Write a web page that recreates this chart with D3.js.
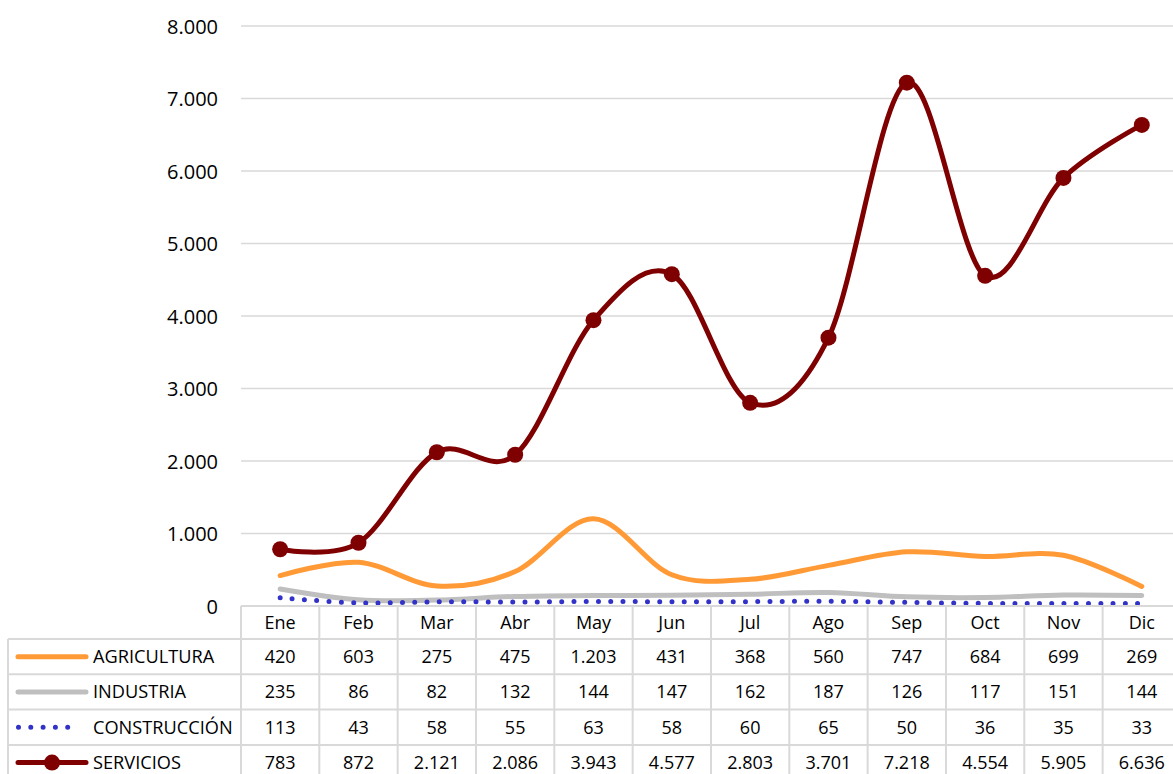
<!DOCTYPE html>
<html>
<head>
<meta charset="utf-8">
<script src="https://cdn.jsdelivr.net/npm/d3@7"></script>
<style>
  html, body { margin: 0; padding: 0; background: #fff; }
  svg { display: block; font-family: "Open Sans", "Noto Sans", sans-serif; }
</style>
</head>
<body>
<svg id="chart" width="1173" height="774"></svg>
<script>
// Monthly figures by sector
const months = ["Ene", "Feb", "Mar", "Abr", "May", "Jun", "Jul", "Ago", "Sep", "Oct", "Nov", "Dic"];
const agricultura = [420, 603, 275, 475, 1203, 431, 368, 560, 747, 684, 699, 269];
const industria = [235, 86, 82, 132, 144, 147, 162, 187, 126, 117, 151, 144];
const construccion = [113, 43, 58, 55, 63, 58, 60, 65, 50, 36, 35, 33];
const servicios = [783, 872, 2121, 2086, 3943, 4577, 2803, 3701, 7218, 4554, 5905, 6636];
const yTicks = [0, 1000, 2000, 3000, 4000, 5000, 6000, 7000, 8000];

const seriesNames = ["AGRICULTURA", "INDUSTRIA", "CONSTRUCCIÓN", "SERVICIOS"];
const seriesValues = [agricultura, industria, construccion, servicios];
const seriesStyle = [
  { color: "#FF9A36", width: 5, dash: null, marker: false },
  { color: "#BFBFBF", width: 5, dash: null, marker: false },
  { color: "#3232C8", width: 5, dash: "0 12.25", marker: false },
  { color: "#7F0000", width: 5, dash: null, marker: true }
];

const es = d3.formatLocale({ decimal: ",", thousands: ".", grouping: [3], currency: ["", " €"] });
const fmt = es.format(",d");

const svg = d3.select("#chart");

const left = 241, colW = 78.33;
const x = d3.scaleBand().domain(months).range([left, left + colW * months.length]);
const y = d3.scaleLinear().domain([0, 8000]).range([606, 26]);
const cx = m => x(m) + x.bandwidth() / 2;

// Horizontal gridlines
svg.append("g").selectAll("line").data(yTicks.filter(d => d > 0)).join("line")
  .attr("x1", left).attr("x2", 1173)
  .attr("y1", d => y(d)).attr("y2", d => y(d))
  .attr("stroke", "#D9D9D9").attr("stroke-width", 1.5);

// Value axis labels
const yAxis = d3.axisLeft(y).tickValues(yTicks).tickFormat(fmt).tickSize(0).tickPadding(0);
const gy = svg.append("g").attr("transform", "translate(218,0)").call(yAxis);
gy.select(".domain").remove();
gy.selectAll("text").attr("font-size", 20).attr("fill", "#000")
  .attr("font-family", "Open Sans, sans-serif").attr("dy", "0.35em");

// Lines
const line = d3.line()
  .x((d, i) => cx(months[i]))
  .y(d => y(d))
  .curve(d3.curveCardinal.tension(0));

const gLines = svg.append("g");
seriesValues.forEach((vals, s) => {
  const st = seriesStyle[s];
  const p = gLines.append("path").datum(vals)
    .attr("d", line)
    .attr("fill", "none")
    .attr("stroke", st.color)
    .attr("stroke-width", st.width)
    .attr("stroke-linecap", "round")
    .attr("stroke-linejoin", "round");
  if (st.dash) p.attr("stroke-dasharray", st.dash);
  if (st.marker) {
    gLines.append("g").selectAll("circle").data(vals).join("circle")
      .attr("cx", (d, i) => cx(months[i]))
      .attr("cy", d => y(d))
      .attr("r", 8)
      .attr("fill", st.color);
  }
});

// Data table
const tbl = svg.append("g");
const headTop = 606, headBot = 639, rowH = 35.3;
const tableRight = left + colW * months.length;
const gridColor = "#D9D9D9";
const lastBottom = headBot + rowH * seriesNames.length;

// header row borders
tbl.append("line").attr("x1", left).attr("x2", tableRight).attr("y1", headTop).attr("y2", headTop)
  .attr("stroke", gridColor).attr("stroke-width", 2);
// row borders
d3.range(seriesNames.length + 1).forEach(r => {
  const yy = headBot + r * rowH;
  tbl.append("line").attr("x1", 8).attr("x2", tableRight).attr("y1", yy).attr("y2", yy)
    .attr("stroke", gridColor).attr("stroke-width", 2);
});
// vertical borders
tbl.append("line").attr("x1", 8).attr("x2", 8).attr("y1", headBot).attr("y2", lastBottom)
  .attr("stroke", gridColor).attr("stroke-width", 2);
d3.range(months.length + 1).forEach(c => {
  const xx = left + c * colW;
  tbl.append("line").attr("x1", xx).attr("x2", xx).attr("y1", headTop).attr("y2", lastBottom)
    .attr("stroke", gridColor).attr("stroke-width", 2);
});

// month labels
tbl.selectAll("text.month").data(months).join("text")
  .attr("class", "month")
  .attr("x", d => cx(d)).attr("y", (headTop + headBot) / 2)
  .attr("dy", "0.35em").attr("text-anchor", "middle")
  .attr("font-size", 18).attr("fill", "#000").text(d => d);

// rows
seriesNames.forEach((name, r) => {
  const rc = headBot + r * rowH + rowH / 2;
  const st = seriesStyle[r];
  const key = tbl.append("line").attr("x1", 18).attr("x2", 86)
    .attr("y1", rc).attr("y2", rc)
    .attr("stroke", st.color).attr("stroke-width", st.width).attr("stroke-linecap", "round");
  if (st.dash) key.attr("x1", 18.5).attr("x2", 80).attr("stroke-dasharray", "0 12.3");
  if (st.marker) tbl.append("circle").attr("cx", 52).attr("cy", rc).attr("r", 8).attr("fill", st.color);
  tbl.append("text").attr("x", 93).attr("y", rc).attr("dy", "0.35em")
    .attr("font-size", 18.2).attr("fill", "#000").text(name);
  tbl.selectAll(null).data(seriesValues[r]).join("text")
    .attr("x", (d, i) => cx(months[i])).attr("y", rc).attr("dy", "0.35em")
    .attr("text-anchor", "middle").attr("font-size", 18).attr("fill", "#000")
    .text(d => fmt(d));
});
</script>
</body>
</html>
